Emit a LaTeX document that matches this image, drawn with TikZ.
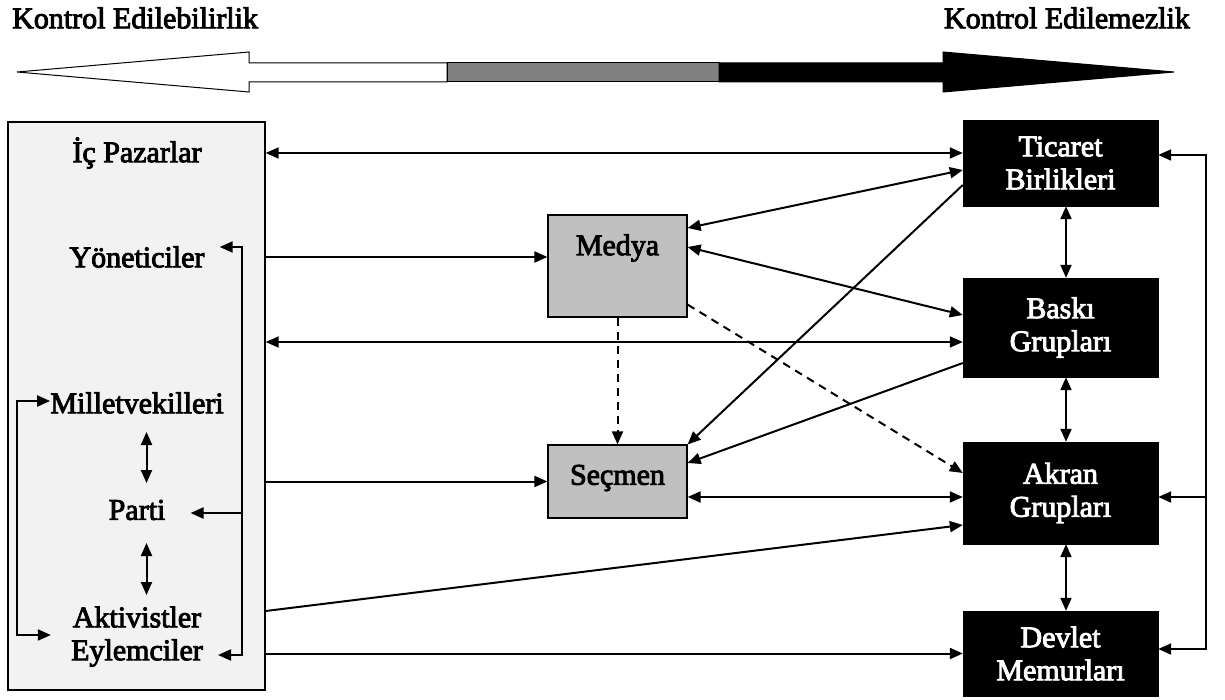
\documentclass[tikz,border=0pt]{standalone}
\usepackage{fontspec}
\setmainfont{Liberation Serif}
\newfontfamily\labelfont{Liberation Serif}[FakeBold=3]
\usetikzlibrary{arrows.meta,calc}
\definecolor{panelgray}{HTML}{F2F2F2}
\definecolor{boxgray}{HTML}{C0C0C0}
\definecolor{shaftgray}{HTML}{808080}
\begin{document}
\begin{tikzpicture}[x=1pt,y=-1pt,
  lbl/.style={inner sep=0pt, font=\fontsize{30}{35}\labelfont, align=center},
  panel/.style={draw=black, line width=1.4pt, fill=panelgray, inner sep=0pt},
  graybox/.style={draw=black, line width=1.2pt, fill=boxgray, inner sep=0pt},
  blackbox/.style={draw=black, fill=black, text=white, inner sep=0pt,
    minimum width=195pt, font=\fontsize{30}{33}\labelfont, align=center},
  tip/.tip={Triangle[length=13pt,width=11pt]},
  conn/.style={line width=2pt, -tip},
  biconn/.style={line width=2pt, tip-tip},
  dashconn/.style={line width=2pt, -tip, dash pattern=on 8pt off 6pt}
]
\useasboundingbox (0,0) rectangle (1225,700);

% scale bar: controllable (left) to uncontrollable (right)
\node[lbl, anchor=west] (kl) at (12,18) {Kontrol Edilebilirlik};
\node[lbl, anchor=east] (kr) at (1190,18) {Kontrol Edilemezlik};
\draw[line width=1pt, fill=white]
  (17,72) -- (249,52) -- (249,63) -- (447,63) -- (447,82) -- (249,82) -- (249,92) -- cycle;
\draw[line width=1pt, fill=shaftgray] (447,63) rectangle (719,82);
\draw[line width=1pt, fill=black]
  (719,63) -- (943,63) -- (943,52) -- (1174,72) -- (943,92) -- (943,82) -- (719,82) -- cycle;

% left panel and its members
\node[panel, minimum width=257pt, minimum height=568pt] (L) at (136.5,406) {};
\node[lbl] (ip)    at (137,153) {İç Pazarlar};
\node[lbl] (yon)   at (137,257) {Yöneticiler};
\node[lbl] (mv)    at (137,403) {Milletvekilleri};
\node[lbl] (parti) at (137,510) {Parti};
\node[lbl] (akt)   at (137,617) {Aktivistler};
\node[lbl] (eyl)   at (137,653) {Eylemciler};

% middle boxes
\node[graybox, minimum width=139pt, minimum height=102pt] (M) at (617.5,266) {};
\node[lbl] (mT) at (617.5,248) {Medya};
\node[graybox, minimum width=139pt, minimum height=73pt] (S) at (617.5,481.5) {};
\node[lbl] (sT) at (617.5,478) {Seçmen};

% right column
\node[blackbox, minimum height=86pt]  (T) at (1060.5,163)   {Ticaret\\Birlikleri};
\node[blackbox, minimum height=99pt]  (B) at (1060.5,327.5) {Baskı\\Grupları};
\node[blackbox, minimum height=102pt] (A) at (1060.5,493)   {Akran\\Grupları};
\node[blackbox, minimum height=85pt]  (D) at (1060.5,653.5) {Devlet\\Memurları};

% links from the left panel
\draw[biconn] (ip -| L.east) -- (ip -| T.west);
\draw[conn] (yon -| L.east) -- (yon -| M.west);
\coordinate (bL) at ($(B.west)+(0,14.5)$);
\draw[biconn] (bL -| L.east) -- (bL);
\draw[conn] (S.west -| L.east) -- (S.west);
\draw[conn] ($(akt -| L.east)+(0,-6)$) -- ($(A.west)+(0,32)$);
\draw[conn] (D.west -| L.east) -- (D.west);

% links around media and voters
\draw[biconn] ($(M.east)+(0,-38)$) -- ($(T.west)+(0,7)$);
\draw[biconn] ($(M.east)+(0,-19)$) -- ($(B.west)+(0,-12.5)$);
\draw[conn] ($(T.west)+(0,22)$) -- (S.north east);
\draw[conn] ($(B.west)+(0,35.5)$) -- ($(S.east)+(0,-18.5)$);
\coordinate (aS) at ($(A.west)+(0,4)$);
\draw[biconn] (aS -| S.east) -- (aS);
\draw[dashconn] (M.south) -- (S.north);
\draw[dashconn] ($(M.south east)+(0,-13)$) -- ($(A.west)+(0,-20)$);

% right column chain
\draw[biconn] ($(T.south)+(5.5,0)$) -- ($(B.north)+(5.5,0)$);
\draw[biconn] ($(B.south)+(5.5,0)$) -- ($(A.north)+(5.5,0)$);
\draw[biconn] ($(A.south)+(5.5,0)$) -- ($(D.north)+(5.5,0)$);

% feedback rail on the right
\coordinate (rail) at (1206,0);
\coordinate (bT) at ($(T.east)+(0,-8)$);
\coordinate (bA) at ($(A.east)+(0,4)$);
\coordinate (bD) at ($(D.east)+(0,-4.5)$);
\draw[biconn] (bD) -- (bD -| rail) -- (bT -| rail) -- (bT);
\draw[conn] (bA -| rail) -- (bA);

% rail inside the panel, right side
\coordinate (rr) at (242,0);
\coordinate (tY) at ($(yon.east)+(15,-10)$);
\coordinate (tP) at ($(parti.east)+(25,3)$);
\coordinate (tE) at ($(eyl.east)+(15,2)$);
\draw[biconn] (tY) -- (tY -| rr) -- (tE -| rr) -- (tE);
\draw[conn] (tP -| rr) -- (tP);

% rail inside the panel, left side
\coordinate (ll) at (17,0);
\coordinate (tM) at ($(mv.west)+(0,-2)$);
\coordinate (tB) at ($(akt.west)!0.5!(eyl.west)+(-21,0)$);
\draw[biconn] (tM) -- (tM -| ll) -- (tB -| ll) -- (tB);

% party links
\draw[biconn] ($(mv.center)+(9.5,29)$) -- ($(parti.center)+(9.5,-27)$);
\draw[biconn] ($(parti.center)+(9.5,33)$) -- ($(akt.center)+(9.5,-22)$);
\end{tikzpicture}
\end{document}
